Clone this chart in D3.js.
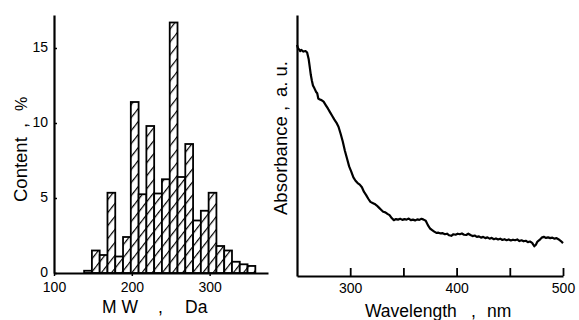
<!DOCTYPE html>
<html><head><meta charset="utf-8">
<script src="https://cdn.jsdelivr.net/npm/d3@7"></script>
<style>
html,body{margin:0;padding:0;background:#fff;}
text{font-family:"Liberation Sans",Arial,sans-serif;fill:#000;}
</style></head>
<body>
<svg id="c" width="579" height="320"></svg>
<script>
// ---- Histogram data (left panel) ----
const binStarts = [140,150,160,170,180,190,200,210,220,230,240,250,260,270,280,290,300,310,320,330,340,350];
const content   = [0.15,1.5,1.2,5.35,1.1,2.4,11.4,5.25,9.8,5.3,6.25,16.7,6.4,8.6,3.5,4.15,5.35,1.8,1.5,0.75,0.58,0.47];
const binWidth = 10;
const histXTicks = [100,200,300];
const histYTicks = [0,5,10,15];

// ---- Spectrum data (right panel) ----
const wavelength = [250,251,252,253,254,256,258,259.5,261,262,263,264,265,266.5,268,269,270,271.5,273,275,277,279,281,283,285,287,289,291,293,295,297,299,301,303,305,307,309,311,313,315,317,319,321,323,325,327,329,331,333,335,337,339,341,343,345,347,349,351,353,355,357,359,361,363,365,367,369,371,373,375,377,379,381,383,385,387,389,391,393,395,397,399,401,403,405,407,409,411,413,415,417,419,421,423,425,427,429,431,433,435,437,439,441,443,445,447,449,451,453,455,457,459,461,463,465,467,469,471,473,474.5,476,478,480,482,484,486,488,490,492,494,496,498,500];
const absorbance = [0.885,0.872,0.868,0.862,0.866,0.860,0.862,0.856,0.830,0.800,0.770,0.748,0.730,0.718,0.705,0.700,0.680,0.676,0.674,0.668,0.655,0.642,0.628,0.614,0.600,0.588,0.572,0.545,0.515,0.480,0.450,0.420,0.400,0.378,0.365,0.356,0.350,0.340,0.322,0.310,0.296,0.284,0.280,0.276,0.270,0.262,0.254,0.246,0.244,0.238,0.233,0.222,0.214,0.218,0.216,0.219,0.215,0.218,0.216,0.220,0.214,0.216,0.213,0.217,0.215,0.219,0.216,0.212,0.195,0.182,0.176,0.170,0.165,0.166,0.163,0.164,0.160,0.162,0.156,0.154,0.160,0.158,0.162,0.160,0.163,0.158,0.157,0.162,0.157,0.153,0.155,0.150,0.152,0.147,0.150,0.145,0.148,0.143,0.146,0.141,0.144,0.140,0.143,0.138,0.141,0.137,0.140,0.136,0.139,0.137,0.140,0.134,0.137,0.133,0.135,0.130,0.132,0.127,0.114,0.120,0.132,0.138,0.147,0.150,0.146,0.148,0.145,0.147,0.143,0.145,0.140,0.134,0.126];
const specXTicks = [300,350,400,450,500];
const specXLabels = [300,400,500];

const svg = d3.select("#c");
svg.append("rect").attr("width",579).attr("height",320).attr("fill","#fff");

// hatch pattern
const defs = svg.append("defs");
const pat = defs.append("pattern").attr("id","hatch")
  .attr("patternUnits","userSpaceOnUse")
  .attr("width",8).attr("height",20)
  .attr("patternTransform","rotate(38)");
pat.append("rect").attr("width",8).attr("height",20).attr("fill","#fff");
pat.append("line").attr("x1",0.6).attr("y1",0).attr("x2",0.6).attr("y2",20)
  .attr("stroke","#000").attr("stroke-width",1.2);

// ---- Left panel ----
const xL = d3.scaleLinear().domain([100,375]).range([54,268]);
const yL = d3.scaleLinear().domain([0,17.2]).range([273,15]);

const bars = svg.append("g").attr("transform","translate(-1,0)");
binStarts.forEach((b,i)=>{
  bars.append("rect")
    .attr("x", xL(b)).attr("width", xL(b+binWidth)-xL(b))
    .attr("y", yL(content[i])).attr("height", yL(0)-yL(content[i]))
    .attr("fill","url(#hatch)").attr("stroke","#000").attr("stroke-width",1.8);
});

const gxL = svg.append("g").attr("transform",`translate(0,${yL(0)})`)
  .call(d3.axisBottom(xL).tickValues(histXTicks).tickSizeInner(3).tickSizeOuter(0).tickPadding(6).tickFormat(d3.format("d")));
const gyL = svg.append("g").attr("transform",`translate(${xL(100)},0)`)
  .call(d3.axisLeft(yL).tickValues(histYTicks).tickSizeInner(-3).tickSizeOuter(0).tickPadding(6).tickFormat(d3.format("d")));
[gxL,gyL].forEach(g=>{
  g.select(".domain").attr("stroke","#000").attr("stroke-width",2.2);
  g.selectAll(".tick line").attr("stroke","#000").attr("stroke-width",1.5);
  g.selectAll(".tick text").style("font-size","14px").attr("fill","#000").style("font-family","Liberation Sans, Arial, sans-serif");
});
gyL.selectAll(".tick text").attr("dy","0.22em");

// Left titles
svg.append("text").attr("x",102).attr("y",313).style("font-size","17.5px").text("M W");
svg.append("text").attr("x",158).attr("y",313).style("font-size","17.5px").text(",");
svg.append("text").attr("x",185).attr("y",313).style("font-size","17.5px").text("Da");
const tl = svg.append("g").attr("transform","translate(27,0)");
tl.append("text").attr("transform","translate(0,202) rotate(-90)").style("font-size","18.5px").text("Content");
tl.append("text").attr("transform","translate(0,128) rotate(-90)").style("font-size","18.5px").text(",");
tl.append("text").attr("transform","translate(0,111) rotate(-90)").style("font-size","16px").text("%");

// ---- Right panel ----
const xR = d3.scaleLinear().domain([250,500]).range([297,563]);
const yR = d3.scaleLinear().domain([0,1]).range([276,15]);

const gxR = svg.append("g").attr("transform",`translate(0,${yR(0)})`)
  .call(d3.axisBottom(xR).tickValues(specXTicks).tickSizeInner(-8).tickSizeOuter(0).tickPadding(7)
    .tickFormat(d=>specXLabels.includes(d)?d3.format("d")(d):""));
const gyR = svg.append("g").attr("transform",`translate(${xR(250)},0)`)
  .call(d3.axisLeft(yR).tickValues([]).tickSizeOuter(0));
[gxR,gyR].forEach(g=>{
  g.select(".domain").attr("stroke","#000").attr("stroke-width",2.2);
  g.selectAll(".tick line").attr("stroke","#000").attr("stroke-width",1.8);
  g.selectAll(".tick text").style("font-size","14px").attr("fill","#000").style("font-family","Liberation Sans, Arial, sans-serif");
});

const line = d3.line().x((d,i)=>xR(wavelength[i])).y((d,i)=>yR(absorbance[i]));
svg.append("path").datum(absorbance).attr("d",line)
  .attr("fill","none").attr("stroke","#000").attr("stroke-width",2.2).attr("stroke-linejoin","round");

svg.append("text").attr("x",365).attr("y",317).style("font-size","17.5px").text("Wavelength");
svg.append("text").attr("x",471).attr("y",317).style("font-size","17.5px").text(",");
svg.append("text").attr("x",487).attr("y",317).style("font-size","17.5px").text("nm");
const tr = svg.append("g").attr("transform","translate(287,0)");
tr.append("text").attr("transform","translate(0,215) rotate(-90)").style("font-size","18.5px").text("Absorbance");
tr.append("text").attr("transform","translate(0,111) rotate(-90)").style("font-size","18.5px").text(",");
tr.append("text").attr("transform","translate(0,97) rotate(-90)").style("font-size","18.5px").text("a. u.");
</script>
</body></html>
